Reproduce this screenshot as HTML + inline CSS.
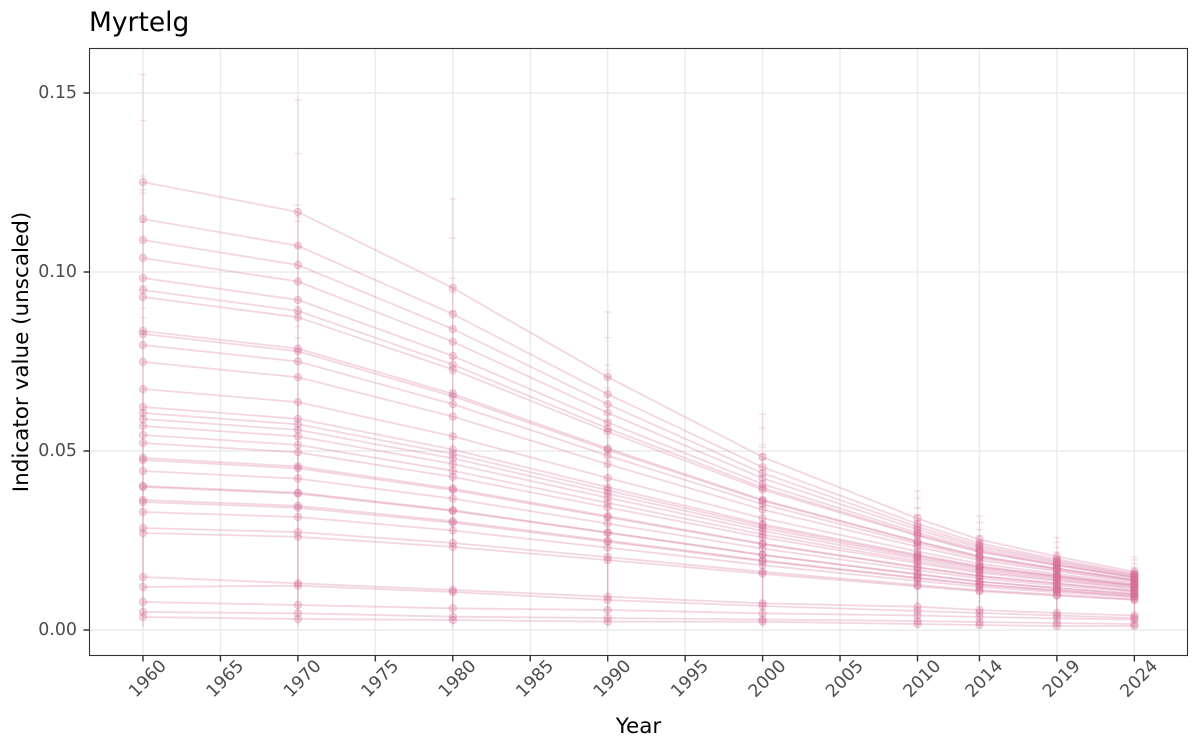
<!DOCTYPE html>
<html>
<head>
<meta charset="utf-8">
<style>
  html, body { margin: 0; padding: 0; background: #ffffff; }
  svg { display: block; }
  text { font-family: "DejaVu Sans", "Liberation Sans", sans-serif; }
</style>
</head>
<body>
<svg width="1200" height="750" viewBox="0 0 1200 750" xmlns="http://www.w3.org/2000/svg">
  <defs>
    <marker id="pt" markerWidth="12" markerHeight="12" refX="6" refY="6" markerUnits="userSpaceOnUse" overflow="visible">
      <circle cx="6" cy="6" r="3.7" fill="#d46c96" fill-opacity="0.28" stroke="#d46c96" stroke-opacity="0.3" stroke-width="1"/>
    </marker>
  </defs>
  <rect x="0" y="0" width="1200" height="750" fill="#ffffff"/>

  <!-- Title -->
  <text x="89" y="31" font-size="26.5" fill="#000000">Myrtelg</text>

  <!-- Panel background -->
  <rect x="89.5" y="48.5" width="1098" height="607" fill="#ffffff"/>

  <!-- Gridlines -->
  <g stroke="#ebebeb" stroke-width="1.5" fill="none">
    <path d="M89.5 93H1187.5M89.5 272H1187.5M89.5 451H1187.5M89.5 630H1187.5"/>
    <path d="M143 48.5V655.5M220.45 48.5V655.5M297.9 48.5V655.5M375.35 48.5V655.5M452.8 48.5V655.5M530.25 48.5V655.5M607.7 48.5V655.5M685.15 48.5V655.5M762.6 48.5V655.5M840.05 48.5V655.5M917.5 48.5V655.5M979.46 48.5V655.5M1056.91 48.5V655.5M1134.36 48.5V655.5"/>
  </g>

  <!-- Error bars (column lines) -->
  <g stroke="#d46c96" stroke-width="1.3" fill="none">
    <g stroke-opacity="0.15">
      <path d="M143 74.5V628M297.9 100V628M452.8 199V628M607.7 312V628M762.6 414V628M917.5 491V628M979.5 516V628M1056.9 537.5V628M1134.4 557V628"/>
    </g>
    <g stroke-opacity="0.2">
      <path d="M143 182V626M297.9 212V626M452.8 288V626M607.7 377V626M762.6 457V626M917.5 518.5V626M979.5 539.5V626M1056.9 556.5V626M1134.4 571.8V626"/>
    </g>
    <g stroke-opacity="0.2">
      <path d="M143 389V618M297.9 402V618M452.8 436V618M607.7 478V618M762.6 518V618M917.5 551.5V618M979.5 563.7V618M1056.9 574V618M1134.4 583.5V618"/>
    </g>
    <g stroke-opacity="0.2" stroke-width="1.4">
      <path d="M139.5 74.5h7M139.5 120.4h7M139.5 193.2h7M139.5 176.2h7M139.5 190h7M139.5 222h7M139.5 286.1h7M139.5 308.4h7M139.5 289.5h7M139.5 317.6h7"/>
      <path d="M294.4 100h7M294.4 153.6h7M294.4 221.2h7M294.4 204.8h7M294.4 217.4h7M294.4 247.1h7M294.4 306.4h7M294.4 326.6h7M294.4 312.3h7M294.4 338h7"/>
      <path d="M449.3 199h7M449.3 238.3h7M449.3 292.9h7M449.3 278.3h7M449.3 287.4h7M449.3 311.5h7M449.3 358.5h7M449.3 373.8h7M449.3 370.1h7M449.3 389.9h7"/>
      <path d="M604.2 312h7M604.2 337.6h7M604.2 377.1h7M604.2 365h7M604.2 370.5h7M604.2 388h7M604.2 421.2h7M604.2 431h7M604.2 437.7h7M604.2 450.8h7"/>
      <path d="M759.1 414h7M759.1 428.1h7M759.1 454.4h7M759.1 444.9h7M759.1 447.6h7M759.1 459.2h7M759.1 480.4h7M759.1 485.5h7M759.1 498.5h7M759.1 506.3h7"/>
      <path d="M914 491h7M914 498.3h7M914 514.5h7M914 507.5h7M914 508.4h7M914 515.6h7M914 528h7M914 530.2h7M914 545.3h7M914 549.3h7"/>
      <path d="M976 516h7M976 522.5h7M976 535.5h7M976 529.5h7M976 529.7h7M976 535.6h7M976 545h7M976 546.2h7M976 561.2h7M976 564.1h7"/>
      <path d="M1053.4 537.5h7M1053.4 542.2h7M1053.4 552.6h7M1053.4 547.4h7M1053.4 552h7M1053.4 559.2h7M1053.4 559.7h7M1053.4 574.1h7M1053.4 576.2h7"/>
      <path d="M1130.9 557h7M1130.9 559.9h7M1130.9 568.1h7M1130.9 563.6h7M1130.9 566.9h7M1130.9 572.2h7M1130.9 585.8h7M1130.9 587.1h7"/>
    </g>
  </g>

  <!-- Series -->
  <g fill="none" stroke="#d46c96" stroke-width="1.8" stroke-opacity="0.28" stroke-linejoin="round" marker-start="url(#pt)" marker-mid="url(#pt)" marker-end="url(#pt)">
    <polyline points="143,182 297.9,212 452.8,288 607.7,377 762.6,457 917.5,518.5 979.5,539.5 1056.9,556.5 1134.4,571.8"/>
    <polyline points="143,219 297.9,245.8 452.8,314.1 607.7,394.2 762.6,467.2 917.5,523.8 979.5,543.3 1056.9,559.2 1134.4,573.5"/>
    <polyline points="143,240 297.9,265 452.8,329 607.7,404.2 762.6,473.2 917.5,526.9 979.5,545.6 1056.9,560.9 1134.4,574.7"/>
    <polyline points="143,258 297.9,281.5 452.8,341.7 607.7,412.8 762.6,478.3 917.5,529.6 979.5,547.6 1056.9,562.3 1134.4,575.6"/>
    <polyline points="143,278 297.9,299.9 452.8,355.9 607.7,422.4 762.6,484.1 917.5,532.7 979.5,549.8 1056.9,563.9 1134.4,576.7"/>
    <polyline points="143,290 297.9,310.9 452.8,364.6 607.7,428.3 762.6,487.7 917.5,534.7 979.5,551.3 1056.9,565 1134.4,577.4"/>
    <polyline points="143,297 297.9,317.3 452.8,369.5 607.7,431.7 762.6,489.7 917.5,535.8 979.5,552.1 1056.9,565.5 1134.4,577.8"/>
    <polyline points="143,331 297.9,348.6 452.8,393.9 607.7,448.4 762.6,499.9 917.5,541.3 979.5,556.1 1056.9,568.4 1134.4,579.7"/>
    <polyline points="143,334 297.9,351.3 452.8,396.2 607.7,450 762.6,500.8 917.5,541.8 979.5,556.5 1056.9,568.7 1134.4,579.9"/>
    <polyline points="143,345 297.9,361.5 452.8,404.1 607.7,455.6 762.6,504.3 917.5,543.8 979.5,558 1056.9,569.8 1134.4,580.7"/>
    <polyline points="143,362 297.9,377.2 452.8,416.5 607.7,464.2 762.6,509.6 917.5,546.8 979.5,560.2 1056.9,571.4 1134.4,581.8"/>
    <polyline points="143,389 297.9,402.1 452.8,436.3 607.7,478 762.6,518.2 917.5,551.5 979.5,563.7 1056.9,574 1134.4,583.5"/>
    <polyline points="143,407 297.9,418.8 452.8,449.5 607.7,487.3 762.6,524.1 917.5,554.8 979.5,566.2 1056.9,575.8 1134.4,584.8"/>
    <polyline points="143,413 297.9,424.3 452.8,453.9 607.7,490.3 762.6,525.9 917.5,555.8 979.5,566.9 1056.9,576.2 1134.4,585.1"/>
    <polyline points="143,419 297.9,429.9 452.8,458.4 607.7,493.7 762.6,528.1 917.5,557.2 979.5,567.9 1056.9,577.1 1134.4,585.7"/>
    <polyline points="143,426 297.9,436.4 452.8,463.9 607.7,497.7 762.6,531 917.5,559 979.5,569.4 1056.9,578.3 1134.4,586.6"/>
    <polyline points="143,435 297.9,444.9 452.8,470.8 607.7,502.9 762.6,534.5 917.5,561.3 979.5,571.2 1056.9,579.7 1134.4,587.8"/>
    <polyline points="143,443 297.9,452.3 452.8,476.9 607.7,507.4 762.6,537.5 917.5,563.2 979.5,572.7 1056.9,580.9 1134.4,588.7"/>
    <polyline points="143,458 297.9,466.4 452.8,488.5 607.7,516.1 762.6,543.5 917.5,567 979.5,575.8 1056.9,583.4 1134.4,590.6"/>
    <polyline points="143,460 297.9,468.3 452.8,490.1 607.7,517.3 762.6,544.3 917.5,567.5 979.5,576.3 1056.9,583.7 1134.4,590.9"/>
    <polyline points="143,471 297.9,478.6 452.8,498.6 607.7,523.6 762.6,548.6 917.5,570.2 979.5,578.4 1056.9,585.5 1134.4,592.2"/>
    <polyline points="143,486 297.9,492.6 452.8,510.2 607.7,532.4 762.6,554.7 917.5,574.1 979.5,581.5 1056.9,588 1134.4,594.1"/>
    <polyline points="143,487 297.9,493.6 452.8,511 607.7,532.9 762.6,555.1 917.5,574.4 979.5,581.7 1056.9,588.1 1134.4,594.2"/>
    <polyline points="143,500 297.9,505.8 452.8,521.1 607.7,540.6 762.6,560.3 917.5,577.7 979.5,584.4 1056.9,590.2 1134.4,595.8"/>
    <polyline points="143,502 297.9,507.7 452.8,522.7 607.7,541.8 762.6,561.2 917.5,578.3 979.5,584.9 1056.9,590.6 1134.4,596.2"/>
    <polyline points="143,512 297.9,517 452.8,530.5 607.7,547.6 762.6,565.2 917.5,580.9 979.5,586.9 1056.9,592.2 1134.4,597.4"/>
    <polyline points="143,528 297.9,532.1 452.8,543 607.7,557.1 762.6,571.8 917.5,585 979.5,590.2 1056.9,594.8 1134.4,599.3"/>
    <polyline points="143,533 297.9,536.8 452.8,546.9 607.7,560.1 762.6,573.8 917.5,586.3 979.5,591.3 1056.9,595.6 1134.4,599.9"/>
    <polyline points="143,577 297.9,583.3 452.8,590 607.7,596.7 762.6,603.3 917.5,606.7 979.5,610 1056.9,613 1134.4,615.5"/>
    <polyline points="143,587 297.9,585.7 452.8,592 607.7,600 762.6,606 917.5,611 979.5,613 1056.9,615.5 1134.4,618"/>
    <polyline points="143,602 297.9,605 452.8,608.3 607.7,610 762.6,613.3 917.5,615.5 979.5,617 1056.9,618.3 1134.4,619.5"/>
    <polyline points="143,612 297.9,613.3 452.8,616.7 607.7,618 762.6,619.5 917.5,621 979.5,622 1056.9,623 1134.4,624"/>
    <polyline points="143,617 297.9,619 452.8,620 607.7,621.7 762.6,621.7 917.5,624 979.5,625 1056.9,626 1134.4,626"/>
  </g>

  <!-- Panel border -->
  <rect x="89.5" y="48.5" width="1098" height="607" fill="none" stroke="#333333" stroke-width="1.1"/>

  <!-- Axis ticks -->
  <g stroke="#333333" stroke-width="1.4">
    <path d="M83.5 93H89.5M83.5 272H89.5M83.5 451H89.5M83.5 630H89.5"/>
    <path d="M143 655.5V661.5M220.45 655.5V661.5M297.9 655.5V661.5M375.35 655.5V661.5M452.8 655.5V661.5M530.25 655.5V661.5M607.7 655.5V661.5M685.15 655.5V661.5M762.6 655.5V661.5M840.05 655.5V661.5M917.5 655.5V661.5M979.46 655.5V661.5M1056.91 655.5V661.5M1134.36 655.5V661.5"/>
  </g>

  <!-- Y tick labels -->
  <g font-size="17.4" fill="#4d4d4d" text-anchor="end" dominant-baseline="central">
    <text x="77" y="93">0.15</text>
    <text x="77" y="272">0.10</text>
    <text x="77" y="451">0.05</text>
    <text x="77" y="630">0.00</text>
  </g>

  <!-- X tick labels -->
  <g font-size="17.4" fill="#4d4d4d" text-anchor="middle" dominant-baseline="central">
    <text x="148" y="679" transform="rotate(-45 148 679)">1960</text>
    <text x="225.45" y="679" transform="rotate(-45 225.45 679)">1965</text>
    <text x="302.9" y="679" transform="rotate(-45 302.9 679)">1970</text>
    <text x="380.35" y="679" transform="rotate(-45 380.35 679)">1975</text>
    <text x="457.8" y="679" transform="rotate(-45 457.8 679)">1980</text>
    <text x="535.25" y="679" transform="rotate(-45 535.25 679)">1985</text>
    <text x="612.7" y="679" transform="rotate(-45 612.7 679)">1990</text>
    <text x="690.15" y="679" transform="rotate(-45 690.15 679)">1995</text>
    <text x="767.6" y="679" transform="rotate(-45 767.6 679)">2000</text>
    <text x="845.05" y="679" transform="rotate(-45 845.05 679)">2005</text>
    <text x="922.5" y="679" transform="rotate(-45 922.5 679)">2010</text>
    <text x="984.46" y="679" transform="rotate(-45 984.46 679)">2014</text>
    <text x="1061.91" y="679" transform="rotate(-45 1061.91 679)">2019</text>
    <text x="1139.36" y="679" transform="rotate(-45 1139.36 679)">2024</text>
  </g>

  <!-- Axis titles -->
  <text x="638.5" y="733" font-size="21.5" fill="#000000" text-anchor="middle">Year</text>
  <text x="28" y="352" font-size="21.5" fill="#000000" text-anchor="middle" transform="rotate(-90 28 352)">Indicator value (unscaled)</text>
</svg>
</body>
</html>
